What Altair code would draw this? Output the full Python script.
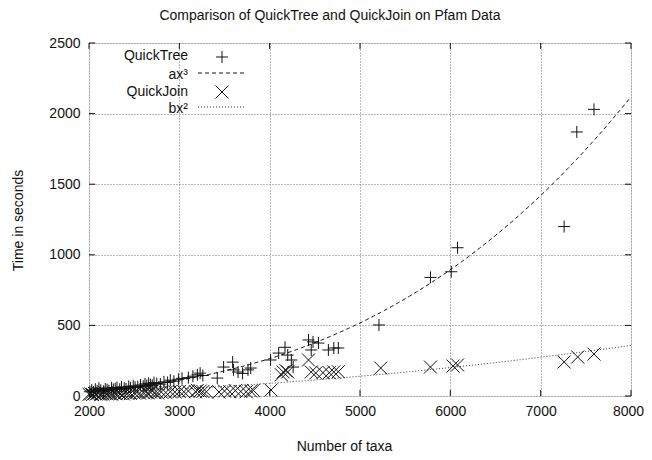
import altair as alt
import pandas as pd

# ---- data ----
qt_n = [2010, 2030, 2050, 2070, 2090, 2110, 2130, 2160, 2180, 2200,
        2220, 2250, 2270, 2290, 2310, 2340, 2360, 2390, 2410, 2440,
        2460, 2490, 2510, 2540, 2570, 2600, 2620, 2640, 2660, 2680,
        2700, 2720, 2750, 2790, 2830, 2870, 2900, 2940, 2990, 3030,
        3100, 3150, 3200, 3230, 3260, 3420, 3490, 3590, 3600, 3650,
        3700, 3760, 3790, 4010, 4100, 4170, 4200, 4240, 4260, 4430,
        4480, 4540, 4460, 4650, 4710, 4760, 5210, 5780, 6010, 6080,
        7260, 7400, 7590]
qt_t = [30, 42, 28, 48, 36, 55, 40, 33, 50, 45,
        38, 58, 46, 52, 60, 48, 64, 55, 50, 68,
        58, 72, 62, 66, 78, 70, 85, 74, 90, 80,
        76, 95, 88, 84, 100, 96, 112, 105, 118, 125,
        130, 140, 150, 162, 145, 127, 205, 240, 185, 170,
        160, 185, 198, 255, 304, 345, 290, 255, 205, 397,
        383, 375, 326, 326, 340, 340, 503, 840, 880, 1050,
        1200, 1870, 2030]

qj_n = [2000, 2020, 2040, 2060, 2080, 2100, 2130, 2150, 2180, 2200,
        2230, 2250, 2280, 2300, 2330, 2350, 2380, 2400, 2430, 2460,
        2500, 2530, 2560, 2600, 2630, 2650, 2680, 2700, 2730, 2760,
        2800, 2850, 2900, 2950, 3000, 3050, 3100, 3180, 3200, 3230,
        3260, 3300, 3440, 3500, 3560, 3620, 3680, 3740, 3790, 3820,
        4015, 4130, 4150, 4180, 4200, 4430, 4460, 4510, 4590, 4660,
        4710, 4760, 5230, 5780, 6030, 6080, 7260, 7410, 7590]
qj_t = [12, 15, 10, 18, 14, 20, 12, 16, 22, 15,
        18, 14, 20, 16, 22, 18, 15, 24, 20, 18,
        22, 26, 20, 25, 30, 22, 28, 35, 24, 22,
        28, 25, 30, 28, 32, 30, 35, 30, 40, 35,
        32, 30, 28, 35, 30, 38, 32, 30, 35, 40,
        42, 150, 170, 180, 170, 255, 170, 163, 165, 165,
        170, 172, 198, 205, 212, 220, 241, 276, 297]

# fitted curves: a*x^3 and b*x^2
a_coef = 4.14e-9
b_coef = 5.6e-6

x_ticks = [2000, 3000, 4000, 5000, 6000, 7000, 8000]
y_ticks = [0, 500, 1000, 1500, 2000, 2500]

legend_labels = ["QuickTree", "ax\u00b3", "QuickJoin", "bx\u00b2"]

# ---- chart ----
W, H = 542, 353
FONT = "Liberation Sans"
PLUS = "M-1,0L1,0M0,-1L0,1"
CROSS = "M-1,-1L1,1M-1,1L1,-1"

xs = alt.Scale(domain=[2000, 8000], nice=False, zero=False, padding=0)
ys = alt.Scale(domain=[0, 2500], nice=False, padding=0)

x_axis = alt.Axis(values=x_ticks, title="Number of taxa", grid=True,
                  gridDash=[1, 2], gridColor="#777", gridWidth=1,
                  ticks=False, tickSize=0, domain=False, labelPadding=8,
                  labelFlush=False,
                  labelOffset={"condition": {"test": "datum.value >= 8000", "value": -3},
                               "value": 0},
                  labelFont=FONT, labelFontSize=14, labelColor="#111",
                  titleFont=FONT, titleFontSize=14, titleFontWeight="normal",
                  titleColor="#111", titleX=255, titleY=50,
                  titleBaseline="middle", titleAlign="center", format="d")
y_axis = alt.Axis(values=y_ticks, title="Time in seconds", grid=True,
                  gridDash=[1, 2], gridColor="#777", gridWidth=1,
                  ticks=False, tickSize=0, domain=False, labelPadding=9,
                  labelFlush=False,
                  labelFont=FONT, labelFontSize=14, labelColor="#111",
                  titleFont=FONT, titleFontSize=14, titleFontWeight="normal",
                  titleColor="#111", titleX=-71, titleY=177,
                  titleBaseline="middle", titleAlign="center", format="d")

qt = pd.DataFrame({"n": qt_n, "t": qt_t})
qj = pd.DataFrame({"n": qj_n, "t": qj_t})

base_axes = alt.Chart(qt).mark_point(opacity=0).encode(
    x=alt.X("n:Q", scale=xs, axis=x_axis),
    y=alt.Y("t:Q", scale=ys, axis=y_axis),
)

qt_pts = alt.Chart(qt).mark_point(shape=PLUS, filled=False, size=144,
                                  stroke="#111", strokeWidth=1, opacity=1).encode(
    x=alt.X("n:Q", scale=xs), y=alt.Y("t:Q", scale=ys))
qj_pts = alt.Chart(qj).mark_point(shape=CROSS, filled=False, size=169,
                                  stroke="#111", strokeWidth=1, opacity=1).encode(
    x=alt.X("n:Q", scale=xs), y=alt.Y("t:Q", scale=ys))

cubic = alt.Chart(alt.sequence(2000, 8001, 25, as_="n")).transform_calculate(
    t=f"{a_coef} * pow(datum.n, 3)"
).mark_line(color="#111", strokeWidth=1, strokeDash=[4, 3], clip=True).encode(
    x=alt.X("n:Q", scale=xs), y=alt.Y("t:Q", scale=ys))
quad = alt.Chart(alt.sequence(2000, 8001, 25, as_="n")).transform_calculate(
    t=f"{b_coef} * pow(datum.n, 2)"
).mark_line(color="#333", strokeWidth=1, strokeDash=[1, 2], clip=True).encode(
    x=alt.X("n:Q", scale=xs), y=alt.Y("t:Q", scale=ys))

# inward tick marks on all four sides
xt = pd.DataFrame({"v": x_ticks})
yt = pd.DataFrame({"v": y_ticks})
tick_b = alt.Chart(xt).mark_rule(color="#111").encode(
    x=alt.X("v:Q", scale=xs), y=alt.value(H), y2=alt.value(H - 6))
tick_t = alt.Chart(xt).mark_rule(color="#111").encode(
    x=alt.X("v:Q", scale=xs), y=alt.value(0), y2=alt.value(6))
tick_l = alt.Chart(yt).mark_rule(color="#111").encode(
    y=alt.Y("v:Q", scale=ys), x=alt.value(0), x2=alt.value(6))
tick_r = alt.Chart(yt).mark_rule(color="#111").encode(
    y=alt.Y("v:Q", scale=ys), x=alt.value(W), x2=alt.value(W - 6))

# legend (gnuplot style: label right-aligned, then sample)
def leg_text(label, y):
    return alt.Chart(pd.DataFrame({"l": [label]})).mark_text(
        align="right", baseline="middle", font=FONT, fontSize=14, color="#111"
    ).encode(text="l:N", x=alt.value(99), y=alt.value(y))

leg = [
    leg_text(legend_labels[0], 13),
    leg_text(legend_labels[1], 32),
    leg_text(legend_labels[2], 49),
    leg_text(legend_labels[3], 66),
    alt.Chart(pd.DataFrame({"k": [0]})).mark_point(
        shape=PLUS, filled=False, size=144, stroke="#111", strokeWidth=1, opacity=1
    ).encode(x=alt.value(133), y=alt.value(14)),
    alt.Chart(pd.DataFrame({"k": [0]})).mark_rule(
        color="#111", strokeWidth=1, strokeDash=[4, 3]
    ).encode(x=alt.value(109), x2=alt.value(156), y=alt.value(30)),
    alt.Chart(pd.DataFrame({"k": [0]})).mark_point(
        shape=CROSS, filled=False, size=169, stroke="#111", strokeWidth=1, opacity=1
    ).encode(x=alt.value(133), y=alt.value(49)),
    alt.Chart(pd.DataFrame({"k": [0]})).mark_rule(
        color="#333", strokeWidth=1, strokeDash=[1, 2]
    ).encode(x=alt.value(109), x2=alt.value(156), y=alt.value(64)),
]

chart = alt.layer(
    base_axes, quad, cubic, qj_pts, qt_pts, tick_b, tick_t, tick_l, tick_r, *leg
).properties(
    width=W, height=H,
    title=alt.TitleParams(
        text="Comparison of QuickTree and QuickJoin on Pfam Data",
        font=FONT, fontSize=14, fontWeight="normal", color="#111",
        anchor="middle", dx=-30, offset=13),
    autosize=alt.AutoSizeParams(type="none"),
    padding={"left": 81, "top": 35, "right": 13, "bottom": 56},
).configure_view(stroke="#111", strokeWidth=1).configure(background="white")

chart.save("out.html", embed_options={"renderer": "svg", "actions": False})
